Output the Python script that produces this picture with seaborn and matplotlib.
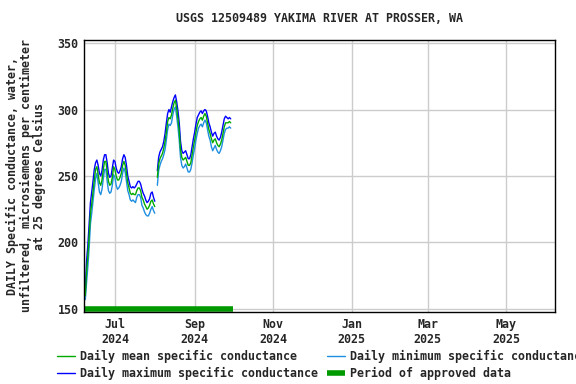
import numpy as np
import pandas as pd
import matplotlib
matplotlib.use("Agg")
import matplotlib.pyplot as plt
import matplotlib.dates as mdates
from matplotlib.lines import Line2D
import seaborn as sns

title = "USGS 12509489 YAKIMA RIVER AT PROSSER, WA"
ylabel = "DAILY Specific conductance, water,\nunfiltered, microsiemens per centimeter\nat 25 degrees Celsius"

start1 = "2024-06-08"
start2 = "2024-08-03"

mean1 = [160, 178, 190, 205, 222, 229, 238, 247, 255, 257, 251, 245, 243, 247, 255,
         261, 261, 253, 246, 243, 244, 249, 257, 255, 250, 247, 247, 249, 252, 258,
         261, 258, 252, 245, 241, 237, 236, 237, 236, 236, 239, 241, 241, 239, 234,
         232, 229, 227, 225, 226, 228, 231, 232, 229, 227]
max1 = [164, 186, 198, 214, 230, 238, 246, 255, 260, 262, 258, 252, 250, 254, 262,
        266, 266, 260, 252, 249, 250, 256, 262, 261, 256, 253, 252, 254, 257, 263,
        266, 264, 258, 250, 246, 242, 241, 242, 241, 242, 244, 246, 246, 244, 240,
        237, 235, 232, 230, 231, 233, 237, 238, 234, 231]
min1 = [157, 170, 182, 196, 214, 222, 231, 240, 248, 252, 245, 238, 236, 240, 248,
        255, 255, 246, 239, 237, 238, 243, 251, 249, 243, 240, 241, 243, 246, 252,
        256, 253, 246, 239, 236, 232, 231, 232, 231, 230, 234, 236, 236, 234, 228,
        226, 223, 221, 220, 220, 222, 225, 227, 224, 222]

mean2 = [249, 259, 263, 265, 267, 271, 276, 283, 291, 294, 293, 296, 301, 305, 307,
         301, 293, 284, 270, 264, 262, 263, 264, 261, 258, 258, 260, 266, 272, 277,
         283, 288, 291, 293, 294, 292, 295, 297, 295, 290, 285, 282, 278, 275, 277,
         278, 275, 273, 272, 274, 277, 282, 287, 290, 290, 290, 291, 290]
max2 = [254, 264, 268, 270, 272, 276, 282, 290, 297, 300, 298, 302, 306, 309, 311,
        306, 299, 290, 276, 269, 267, 268, 269, 266, 263, 263, 266, 272, 278, 283,
        289, 294, 296, 298, 299, 297, 299, 300, 299, 295, 290, 287, 283, 280, 282,
        283, 280, 278, 277, 279, 283, 288, 293, 295, 294, 293, 294, 293]
min2 = [243, 254, 258, 261, 263, 266, 270, 277, 285, 289, 288, 290, 296, 300, 302,
        295, 287, 277, 264, 258, 256, 257, 259, 256, 253, 253, 255, 260, 266, 271,
        277, 282, 286, 288, 289, 287, 290, 292, 290, 285, 280, 277, 272, 269, 271,
        273, 270, 268, 267, 269, 272, 277, 282, 285, 286, 286, 287, 286]

approved_start = "2024-06-07"
approved_end = "2024-10-01"

tick_dates = ["2024-07-01", "2024-09-01", "2024-11-01", "2025-01-01", "2025-03-01", "2025-05-01"]
tick_labels = ["Jul\n2024", "Sep\n2024", "Nov\n2024", "Jan\n2025", "Mar\n2025", "May\n2025"]
yticks = [150, 200, 250, 300, 350]

df = pd.concat([
    pd.DataFrame({"date": pd.date_range(start1, periods=len(mean1), freq="D"),
                  "mean": mean1, "max": max1, "min": min1, "seg": 1}),
    pd.DataFrame({"date": pd.date_range(start2, periods=len(mean2), freq="D"),
                  "mean": mean2, "max": max2, "min": min2, "seg": 2}),
], ignore_index=True)

sns.set_theme(style="white")
FS = 8.4
font = {"family": ["DejaVu Sans Mono"], "weight": "bold"}
plt.rcParams["font.family"] = ["DejaVu Sans Mono", "DejaVu Sans"]
plt.rcParams["font.weight"] = "bold"

fig = plt.figure(figsize=(5.76, 3.84), dpi=100)
ax = fig.add_axes([84 / 576, 1 - 312 / 384, (555 - 84) / 576, (312 - 40) / 384])

c_mean = "#00aa00"
c_min = "#1e8fe0"
c_max = "#0000ff"
c_appr = "#009900"

sns.lineplot(data=df, x="date", y="min", units="seg", estimator=None, color=c_min, lw=1, ax=ax)
sns.lineplot(data=df, x="date", y="max", units="seg", estimator=None, color=c_max, lw=1, ax=ax)
sns.lineplot(data=df, x="date", y="mean", units="seg", estimator=None, color=c_mean, lw=1, ax=ax)

appr = pd.DataFrame({"date": pd.to_datetime([approved_start, approved_end]), "v": [150, 150]})
sns.lineplot(data=appr, x="date", y="v", color=c_appr, lw=4, ax=ax, solid_capstyle="butt")

ax.set_xlim(pd.Timestamp("2024-06-07"), pd.Timestamp("2025-06-08"))
ax.set_ylim(147.7, 352.3)
ax.set_yticks(yticks)
ax.set_yticklabels([str(v) for v in yticks], fontsize=FS, **font)
ax.set_xticks(pd.to_datetime(tick_dates))
ax.set_xticklabels(tick_labels, fontsize=FS, **font)
ax.grid(True, color="#cccccc", lw=1)
ax.tick_params(axis="both", length=0, pad=4)
for s in ax.spines.values():
    s.set_color("black")
    s.set_linewidth(1)
ax.set_xlabel("")
ax.set_ylabel(ylabel, fontsize=FS, linespacing=1.05, labelpad=8, **font)
ax.set_title(title, fontsize=FS, pad=13, **font)

handles = [
    Line2D([], [], color=c_mean, lw=1),
    Line2D([], [], color=c_max, lw=1),
    Line2D([], [], color=c_min, lw=1),
    Line2D([], [], color=c_appr, lw=4, solid_capstyle="butt"),
]
labels = ["Daily mean specific conductance", "Daily maximum specific conductance",
          "Daily minimum specific conductance", "Period of approved data"]
fig.legend(handles, labels, loc="upper left", bbox_to_anchor=(57 / 576, 1 - 350 / 384),
           ncol=2, frameon=False, prop={"family": "DejaVu Sans Mono", "weight": "bold", "size": FS},
           handlelength=1.55, handletextpad=0.45, columnspacing=0.7, labelspacing=0.35,
           borderaxespad=0, borderpad=0)

fig.savefig("out.png", dpi=100)
